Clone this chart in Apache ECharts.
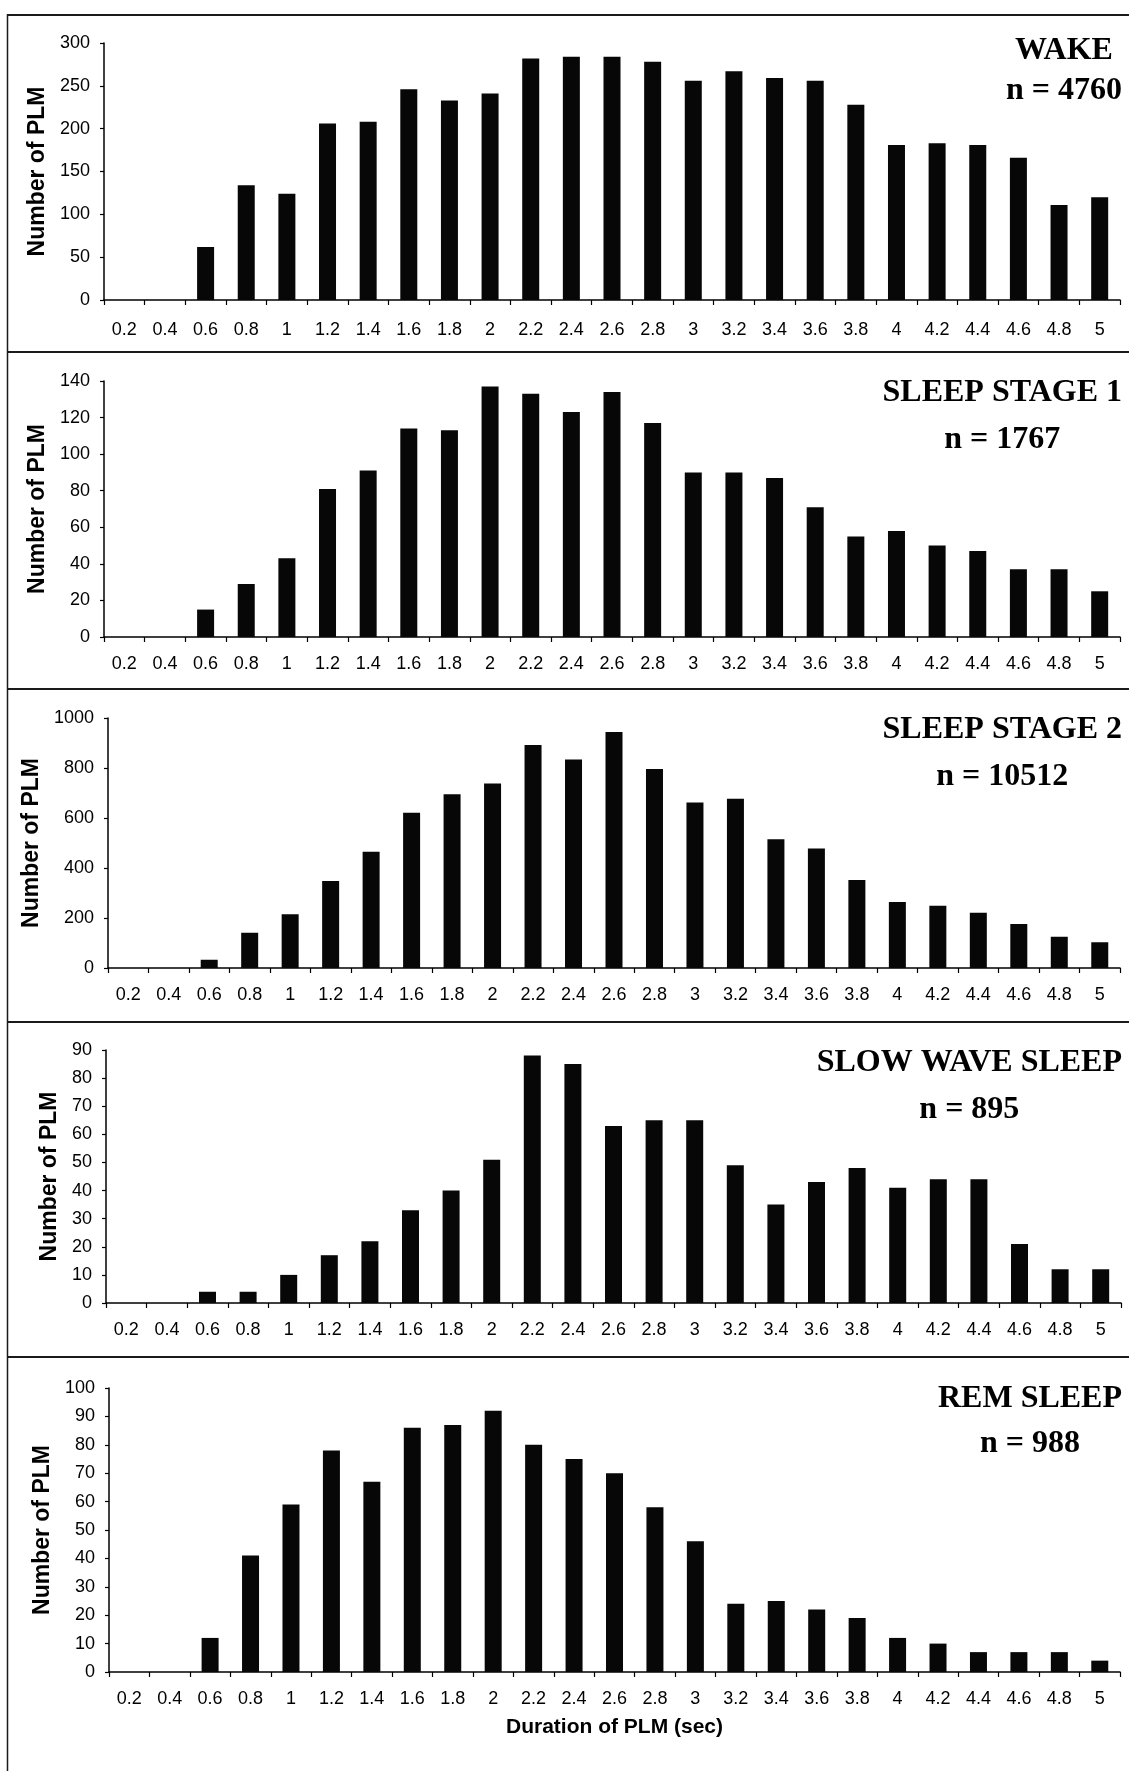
<!DOCTYPE html>
<html>
<head>
<meta charset="utf-8">
<title>Duration of PLM by sleep stage</title>
<script src="https://cdn.jsdelivr.net/npm/echarts@6/dist/echarts.min.js"></script>
<style>
  html, body { margin: 0; padding: 0; background: #ffffff; }
  #chart { width: 1129px; height: 1771px; }
</style>
</head>
<body>
<div id="chart"></div>
<script>
// Duration classes (sec)
const durations = ['0.2', '0.4', '0.6', '0.8', '1', '1.2', '1.4', '1.6', '1.8', '2', '2.2', '2.4', '2.6',
  '2.8', '3', '3.2', '3.4', '3.6', '3.8', '4', '4.2', '4.4', '4.6', '4.8', '5'];

// Number of PLM per duration class, one list per stage
const wake = [0, 0, 62, 134, 124, 206, 208, 246, 233, 241, 282, 284, 284, 278, 256, 267, 259, 256, 228, 181, 183, 181, 166, 111, 120];
const stage1 = [0, 0, 15, 29, 43, 81, 91, 114, 113, 137, 133, 123, 134, 117, 90, 90, 87, 71, 55, 58, 50, 47, 37, 37, 25];
const stage2 = [0, 0, 33, 141, 215, 348, 465, 621, 695, 738, 892, 834, 944, 796, 662, 677, 515, 478, 352, 264, 249, 221, 176, 125, 103];
const slowWave = [0, 0, 4, 4, 10, 17, 22, 33, 40, 51, 88, 85, 63, 65, 65, 49, 35, 43, 48, 41, 44, 44, 21, 12, 12];
const rem = [0, 0, 12, 41, 59, 78, 67, 86, 87, 92, 80, 75, 70, 58, 46, 24, 25, 22, 19, 12, 10, 7, 7, 7, 4];

// Stage names and totals
const stageNames = ['WAKE', 'SLEEP STAGE 1', 'SLEEP STAGE 2', 'SLOW WAVE SLEEP', 'REM SLEEP'];
const stageTotals = [4760, 1767, 10512, 895, 988];

// Y-axis ranges and steps
const yMaxes = [300, 140, 1000, 90, 100];
const ySteps = [50, 20, 200, 10, 10];

const yTitle = 'Number of PLM';
const xTitle = 'Duration of PLM (sec)';

const seriesValues = [wake, stage1, stage2, slowWave, rem];

// Panel geometry (plot rectangles, label gaps and heading positions)
const plotBoxes = [
  { left: 104, top: 43, width: 1016, height: 257 },
  { left: 104, top: 381, width: 1016, height: 256 },
  { left: 108, top: 718, width: 1012, height: 250 },
  { left: 106, top: 1050, width: 1015, height: 253 },
  { left: 109, top: 1388, width: 1011, height: 284 }
];
const xLabelGap = [21, 18, 18, 18, 18];
const headingY = [[50.5, 91], [393, 439.5], [729.5, 776.5], [1063, 1109.5], [1399, 1443.5]];
const dividerY = [15, 352, 689, 1022, 1357];

const sans = '"Liberation Sans", Arial, sans-serif';
const serif = '"Liberation Serif", "Times New Roman", serif';
const headingFont = 'bold 32px ' + serif;

// Measure heading widths so the two lines are centred on each other and the block ends at the right edge
const measureCtx = document.createElement('canvas').getContext('2d');
measureCtx.font = headingFont;
const headingRight = 1122;

const grids = [], xAxes = [], yAxes = [], series = [], graphics = [];

for (let i = 0; i < 5; i++) {
  const last = i === 4;
  grids.push(Object.assign({ containLabel: false }, plotBoxes[i]));
  xAxes.push({
    type: 'category',
    gridIndex: i,
    data: durations,
    boundaryGap: true,
    axisLine: { show: true, lineStyle: { color: '#000', width: 1.5 } },
    axisTick: { show: true, inside: false, length: 5, alignWithLabel: false, lineStyle: { color: '#000', width: 1.2 } },
    axisLabel: { interval: 0, margin: xLabelGap[i], color: '#000', fontSize: 18, fontFamily: sans },
    splitLine: { show: false },
    name: last ? xTitle : '',
    nameLocation: 'middle',
    nameGap: 45,
    nameTextStyle: { color: '#000', fontSize: 21, fontWeight: 'bold', fontFamily: sans }
  });
  yAxes.push({
    type: 'value',
    gridIndex: i,
    min: 0,
    max: yMaxes[i],
    interval: ySteps[i],
    axisLine: { show: true, lineStyle: { color: '#000', width: 1.5 } },
    axisTick: { show: true, inside: false, length: 4, lineStyle: { color: '#000', width: 1.2 } },
    axisLabel: {
      margin: 14, color: '#000', fontSize: 18, fontFamily: sans,
      formatter: function (v) { return String(v); }
    },
    splitLine: { show: false },
    name: yTitle,
    nameLocation: 'middle',
    nameGap: 45,
    nameTextStyle: { color: '#000', fontSize: 23, fontWeight: 'bold', fontFamily: sans }
  });
  series.push({
    type: 'bar',
    xAxisIndex: i,
    yAxisIndex: i,
    data: seriesValues[i],
    barWidth: 17,
    itemStyle: { color: '#070707' },
    silent: true,
    animation: false
  });

  // Stage heading: name on the first line, total below it
  const line1 = stageNames[i];
  const line2 = 'n = ' + stageTotals[i];
  const w = Math.max(measureCtx.measureText(line1).width, measureCtx.measureText(line2).width);
  const cx = headingRight - w / 2;
  [line1, line2].forEach(function (txt, k) {
    graphics.push({
      type: 'text',
      x: cx,
      y: headingY[i][k],
      silent: true,
      style: { text: txt, font: headingFont, fill: '#000', align: 'center', verticalAlign: 'middle' }
    });
  });

  // Horizontal rule above each panel
  graphics.push({
    type: 'line',
    silent: true,
    shape: { x1: 7, y1: dividerY[i], x2: 1129, y2: dividerY[i] },
    style: { stroke: '#1a1a1a', lineWidth: 2 }
  });
}

// Left edge of the frame
graphics.push({
  type: 'line',
  silent: true,
  shape: { x1: 7.5, y1: 14, x2: 7.5, y2: 1771 },
  style: { stroke: '#1a1a1a', lineWidth: 1.5 }
});

const chart = echarts.init(document.getElementById('chart'), null, { renderer: 'canvas', width: 1129, height: 1771 });
chart.setOption({
  animation: false,
  backgroundColor: '#ffffff',
  grid: grids,
  xAxis: xAxes,
  yAxis: yAxes,
  series: series,
  graphic: { elements: graphics }
});
</script>
</body>
</html>
